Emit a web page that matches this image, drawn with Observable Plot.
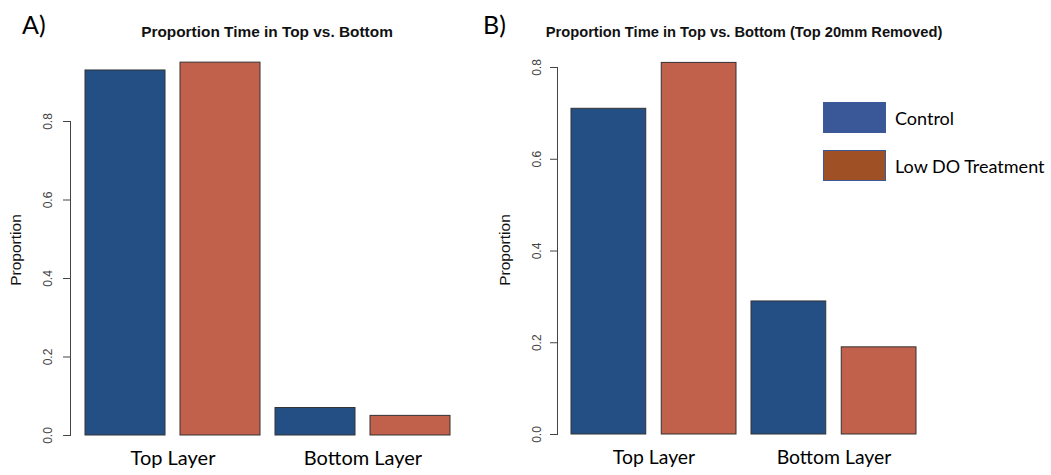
<!DOCTYPE html>
<html>
<head>
<meta charset="utf-8">
<script src="https://cdn.jsdelivr.net/npm/d3@7"></script>
<script src="https://cdn.jsdelivr.net/npm/@observablehq/plot@0.6"></script>
<style>
  html, body { margin: 0; padding: 0; background: #fff; }
  #wrap { position: relative; width: 1051px; height: 475px; overflow: hidden; background: #fff; }
  .panel { position: absolute; top: 0; }
  .tag { position: absolute; font-family: Lato, "Open Sans", sans-serif; font-size: 25px; color: #000; line-height: 1; }
  .title { position: absolute; font-family: "Liberation Sans", Arial, sans-serif; font-weight: bold; color: #111; white-space: nowrap; transform: translate(-50%, -50%); }
  .ylab { position: absolute; font-family: "Liberation Sans", Arial, sans-serif; font-size: 15.5px; color: #111; white-space: nowrap; transform: translate(-50%, -50%) rotate(-90deg); }
  .leg { position: absolute; font-family: Lato, "Open Sans", sans-serif; font-size: 18px; color: #000; display: flex; align-items: center; white-space: nowrap; }
  .leg .sw { width: 63px; height: 31px; margin-right: 9px; box-sizing: border-box; }
</style>
</head>
<body>
<div id="wrap"></div>
<script>
// ---- data ----
const layers = ["Top Layer", "Bottom Layer"];
const groups = ["Control", "Low DO Treatment"];
const panelA_control = [0.93, 0.07];
const panelA_lowDO = [0.95, 0.05];
const panelB_control = [0.71, 0.29];
const panelB_lowDO = [0.81, 0.19];
const yTicks = [0, 0.2, 0.4, 0.6, 0.8];
const panelTags = ["A)", "B)"];
const panelTitles = ["Proportion Time in Top vs. Bottom", "Proportion Time in Top vs. Bottom (Top 20mm Removed)"];
const yLabel = "Proportion";

const barColors = ["#234F84", "#C1614B"];
const legendColors = ["#3A5898", "#9F5024"];

const wrap = document.getElementById("wrap");

function panel(control, lowDO, cfg) {
  const gap = 15;
  const extent = cfg.xRange[1] - cfg.xRange[0];
  const step = (extent + gap) / 2;
  const bw = step - gap;
  const inset = (bw + gap) / 2;
  const rowsC = layers.map((l, i) => ({layer: l, group: groups[0], value: control[i]}));
  const rowsT = layers.map((l, i) => ({layer: l, group: groups[1], value: lowDO[i]}));
  return Plot.plot({
    width: cfg.width,
    height: 475,
    marginLeft: cfg.marginLeft,
    marginRight: cfg.width - cfg.xRange[1],
    marginTop: cfg.marginTop,
    marginBottom: cfg.marginBottom,
    style: {background: "transparent", color: "#444", fontFamily: "'Liberation Sans', Arial, sans-serif", fontSize: "12px"},
    x: {domain: layers, range: cfg.xRange, paddingInner: gap / step, paddingOuter: 0, axis: null},
    y: {domain: [0, 0.8], ticks: yTicks, tickFormat: d => d.toFixed(1), tickRotate: -90, tickSize: 7, tickPadding: cfg.tickPadding, line: true, label: null},
    marks: [
      Plot.barY(rowsC, {x: "layer", y: "value", fill: barColors[0], stroke: "#333", strokeWidth: 1, insetRight: inset}),
      Plot.barY(rowsT, {x: "layer", y: "value", fill: barColors[1], stroke: "#333", strokeWidth: 1, insetLeft: inset}),
      Plot.text(layers, {x: d => d, frameAnchor: "bottom", dy: 29, fontSize: cfg.labelSize, fontFamily: "Lato, 'Open Sans', sans-serif", fill: "#000"})
    ]
  });
}

const cfgs = [
  {left: 0, width: 500, marginLeft: 70, marginTop: 121, marginBottom: 40, xRange: [85, 450], tickPadding: 12, labelSize: 20, titleSize: 15.4, titleX: 267, ylabX: 16},
  {left: 500, width: 551, marginLeft: 57, marginTop: 67, marginBottom: 41, xRange: [71, 417], tickPadding: 10, labelSize: 19.4, titleSize: 14.7, titleX: 744, ylabX: 505}
];
const data = [[panelA_control, panelA_lowDO], [panelB_control, panelB_lowDO]];

cfgs.forEach((cfg, i) => {
  const svg = panel(data[i][0], data[i][1], cfg);
  svg.classList.add("panel");
  svg.style.left = cfg.left + "px";
  svg.style.position = "absolute";
  wrap.appendChild(svg);

  const t = document.createElement("div");
  t.className = "title"; t.textContent = panelTitles[i];
  t.style.fontSize = cfg.titleSize + "px";
  t.style.left = cfg.titleX + "px"; t.style.top = "32px";
  wrap.appendChild(t);

  const yl = document.createElement("div");
  yl.className = "ylab"; yl.textContent = yLabel;
  yl.style.left = cfg.ylabX + "px"; yl.style.top = "250px";
  wrap.appendChild(yl);
});

// tags
[[22, 12], [483, 12]].forEach(([x, y], i) => {
  const d = document.createElement("div");
  d.className = "tag"; d.textContent = panelTags[i];
  d.style.left = x + "px"; d.style.top = y + "px";
  wrap.appendChild(d);
});
// legend
[[823, 102], [823, 150]].forEach(([x, y], i) => {
  const d = document.createElement("div");
  d.className = "leg";
  d.style.left = x + "px"; d.style.top = y + "px";
  const sw = document.createElement("div");
  sw.className = "sw";
  sw.style.background = legendColors[i];
  sw.style.border = "1.5px solid #3A5A9A";
  const t = document.createElement("span");
  t.textContent = groups[i];
  d.appendChild(sw); d.appendChild(t);
  wrap.appendChild(d);
});
</script>
</body>
</html>
